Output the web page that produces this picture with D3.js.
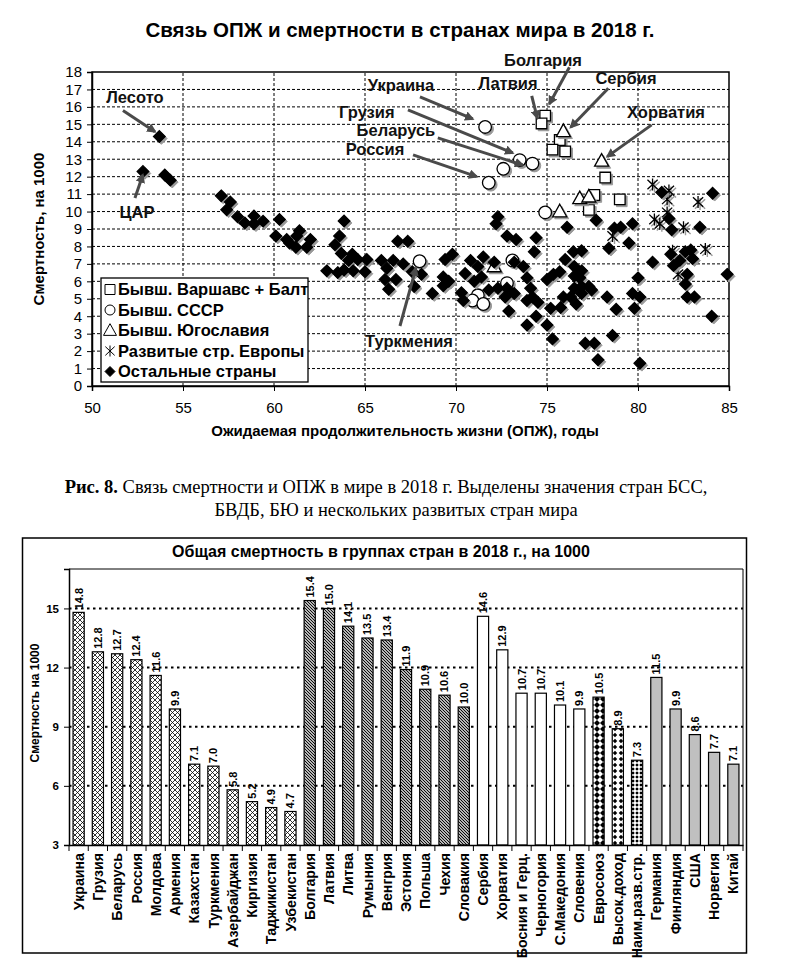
<!DOCTYPE html>
<html><head><meta charset="utf-8">
<script src="https://cdn.jsdelivr.net/npm/d3@7"></script>
<style>
body{margin:0;background:#fff}
svg text{font-family:"Liberation Sans",Arial,sans-serif}
</style>
</head><body>
<svg id="c" width="785" height="963"></svg>
<script>
// ---------- Scatter data: [life expectancy, mortality per 1000] ----------
const warsawBalt = [[74.9,15.5],[74.7,15.05],[75.7,14.1],[75.3,13.55],[76.0,13.45],[78.2,11.95],[77.6,10.95],[79.0,10.7],[77.3,10.1]];
const formerUSSR = [[71.6,14.85],[72.6,12.45],[73.5,12.95],[74.2,12.75],[71.8,11.65],[74.9,9.95],[68.0,7.15],[73.1,7.2],[72.8,5.9],[71.2,5.2],[70.9,4.9],[71.5,4.7]];
const formerYugo = [[75.9,14.6],[78.0,12.9],[76.8,10.75],[77.3,10.85],[75.7,10.0],[72.1,6.85]];
const developedEurope = [[80.8,11.55],[81.7,11.2],[81.6,10.7],[83.3,10.55],[81.6,9.95],[80.9,9.55],[81.2,9.3],[82.5,9.1],[78.6,8.6],[81.9,7.75],[83.7,7.85],[82.2,6.4]];
const otherCountries = [[53.7,14.3],[52.8,12.3],[54.0,12.1],[54.3,11.8],[57.1,10.9],[57.6,10.55],[57.4,10.1],[58.0,9.7],[58.4,9.35],[58.9,9.75],[58.9,9.3],[59.4,9.45],[60.3,9.55],[60.1,8.6],[60.7,8.4],[60.85,8.2],[61.4,8.9],[61.25,8.6],[61.2,7.95],[61.8,7.95],[62.0,8.4],[62.9,6.6],[63.5,6.5],[63.85,9.46],[63.6,8.6],[63.35,8.1],[63.7,7.6],[64.3,7.55],[64.1,7.2],[64.6,7.25],[65.1,7.25],[63.85,6.65],[64.35,6.6],[65.0,6.55],[65.9,7.2],[66.2,6.75],[66.55,7.2],[67.1,7.0],[66.1,6.1],[66.7,6.1],[66.3,5.55],[66.8,8.3],[67.35,8.3],[67.6,6.55],[68.1,6.4],[67.7,5.7],[68.7,5.3],[69.4,7.25],[69.8,7.55],[69.3,6.25],[69.6,6.0],[69.3,5.75],[70.3,5.35],[70.4,4.9],[70.8,7.2],[71.5,7.4],[71.2,6.85],[72.1,7.1],[70.5,6.45],[71.0,6.0],[71.4,6.25],[71.8,5.5],[72.3,9.7],[72.2,9.3],[72.8,8.6],[73.3,8.4],[74.4,8.5],[74.3,7.7],[73.2,7.1],[73.7,6.85],[73.9,6.2],[72.3,5.6],[72.8,5.6],[73.2,5.3],[72.7,5.1],[72.9,4.3],[74.1,5.6],[74.2,5.1],[73.9,4.9],[74.5,4.8],[74.4,4.0],[73.9,3.5],[75.0,3.5],[75.3,2.7],[75.0,6.1],[75.35,6.4],[75.7,6.55],[76.0,7.25],[76.45,7.7],[76.9,7.75],[76.5,6.85],[76.9,6.6],[76.5,6.3],[76.8,6.2],[76.5,5.6],[76.9,5.7],[77.3,5.7],[77.45,5.5],[76.9,5.3],[75.9,5.1],[76.3,5.1],[76.6,4.7],[75.2,4.45],[75.75,4.5],[77.1,2.45],[77.6,2.45],[77.8,1.5],[76.1,9.1],[77.7,9.5],[78.7,9.05],[79.05,9.1],[79.7,9.3],[78.4,7.9],[79.5,8.2],[78.3,5.1],[78.8,4.4],[78.6,2.9],[80.0,6.2],[79.7,5.3],[80.1,5.1],[79.8,4.45],[80.1,1.3],[81.3,11.1],[84.1,11.05],[81.7,9.6],[81.85,8.95],[83.4,9.1],[80.8,7.1],[81.8,7.55],[81.95,6.9],[82.3,7.2],[82.6,7.7],[82.9,7.8],[83.0,7.3],[82.7,6.4],[82.6,5.85],[82.7,5.1],[83.1,5.1],[84.05,4.0],[84.9,6.4]];
const xTicks = [50,55,60,65,70,75,80,85];
const yTicks = [0,1,2,3,4,5,6,7,8,9,10,11,12,13,14,15,16,17,18];
const legendLabels = ["Бывш. Варшавс + Балт","Бывш. СССР","Бывш. Югославия","Развитые стр. Европы","Остальные страны"];
// annotations: label, label position [x,y], arrow from [x,y] to [x,y] (data units)
const annLabels = ["Лесото","ЦАР","Украина","Грузия","Беларусь","Россия","Латвия","Болгария","Сербия","Хорватия","Туркмения"];
const annText = [[52.36,16.57],[52.47,9.98],[66.98,17.26],[65.1,15.71],[66.7,14.65],[65.55,13.58],[72.86,17.37],[74.78,18.69],[79.34,17.66],[81.54,15.71],[67.42,2.58]];
const annFrom = [[51.7,15.8],[52.36,10.78],[68.02,16.57],[67.36,15.83],[69.0,14.22],[67.64,13.25],[74.16,16.63],[76.23,18.27],[78.37,17.07],[80.75,14.97],[66.92,3.44]];
const annTo = [[53.46,14.58],[52.79,12.1],[70.92,15.31],[73.12,13.36],[73.66,12.67],[71.14,12.0],[74.47,15.35],[75.13,16.17],[76.3,14.83],[78.31,13.15],[67.8,6.77]];

// ---------- Bar data ----------
const barCountries = ["Украина","Грузия","Беларусь","Россия","Молдова","Армения","Казахстан","Туркмения","Азербайджан","Киргизия","Таджикистан","Узбекистан","Болгария","Латвия","Литва","Румыния","Венгрия","Эстония","Польша","Чехия","Словакия","Сербия","Хорватия","Босния и Герц.","Черногория","С.Македония","Словения","Евросоюз","Высок.доход","Наим.разв.стр.","Германия","Финляндия","США","Норвегия","Китай"];
const barValues = [14.8,12.8,12.7,12.4,11.6,9.9,7.1,7.0,5.8,5.2,4.9,4.7,15.4,15.0,14.1,13.5,13.4,11.9,10.9,10.6,10.0,14.6,12.9,10.7,10.7,10.1,9.9,10.5,8.9,7.3,11.5,9.9,8.6,7.7,7.1];
const barGroups = ["ussr","ussr","ussr","ussr","ussr","ussr","ussr","ussr","ussr","ussr","ussr","ussr","wb","wb","wb","wb","wb","wb","wb","wb","wb","yu","yu","yu","yu","yu","yu","eu","hi","ld","dev","dev","dev","dev","dev"];
const barYTicks = [3,6,9,12,15];

const svg = d3.select("#c");
const defs = svg.append("defs");

// ---------- patterns ----------
function pat(id,w,h,fn){const p=defs.append("pattern").attr("id",id).attr("patternUnits","userSpaceOnUse").attr("width",w).attr("height",h);fn(p);}
pat("p-ussr",5,5,p=>{p.append("rect").attr("width",5).attr("height",5).attr("fill","#fff");
  p.append("path").attr("d","M0,0L5,5M5,0L0,5").attr("stroke","#000").attr("stroke-width",0.8);});
pat("p-wb",3,3,p=>{p.append("rect").attr("width",3).attr("height",3).attr("fill","#fff");
  p.append("path").attr("d","M-1,-1L4,4M-1,2L1,4M2,-1L4,1").attr("stroke","#000").attr("stroke-width",1.1);});
pat("p-eu",6,6,p=>{p.append("rect").attr("width",6).attr("height",6).attr("fill","#fff");
  p.append("path").attr("d","M3,0L6,3L3,6L0,3Z").attr("fill","#000");});
pat("p-hi",6,6,p=>{p.append("rect").attr("width",6).attr("height",6).attr("fill","#fff");
  p.append("path").attr("d","M3,0.8L5.2,3L3,5.2L0.8,3Z").attr("fill","#000");});
pat("p-ld",4,4,p=>{p.append("rect").attr("width",4).attr("height",4).attr("fill","#bbb");
  p.append("rect").attr("width",2).attr("height",2).attr("fill","#000");
  p.append("rect").attr("x",2).attr("y",2).attr("width",2).attr("height",2).attr("fill","#fff");});
const fills = {ussr:"url(#p-ussr)",wb:"url(#p-wb)",yu:"#fff",eu:"url(#p-eu)",hi:"url(#p-hi)",ld:"url(#p-ld)",dev:"#c0c0c0"};

defs.append("marker").attr("id","arr").attr("viewBox","0 0 10 10").attr("refX",8).attr("refY",5)
  .attr("markerWidth",3.2).attr("markerHeight",3.2).attr("orient","auto")
  .append("path").attr("d","M0,0L10,5L0,10Z").attr("fill","#4a4a4a");

// ================= SCATTER =================
const x = d3.scaleLinear().domain([50,85]).range([92,729]);
const y = d3.scaleLinear().domain([0,18]).range([386,72]);

svg.append("text").attr("x",400).attr("y",37).attr("text-anchor","middle")
  .attr("font-size",20.5).attr("font-weight","bold").text("Связь ОПЖ и смертности в странах мира в 2018 г.");

const g1 = svg.append("g");
// grid
g1.selectAll(".hg").data(yTicks.filter(d=>d>0&&d<18)).join("line")
  .attr("x1",x(50)).attr("x2",x(85)).attr("y1",d=>y(d)).attr("y2",d=>y(d))
  .attr("stroke","#000").attr("stroke-width",1).attr("stroke-dasharray","3,2");
g1.selectAll(".vg").data(xTicks.filter(d=>d>50&&d<85)).join("line")
  .attr("y1",y(0)).attr("y2",y(18)).attr("x1",d=>x(d)).attr("x2",d=>x(d))
  .attr("stroke","#000").attr("stroke-width",1).attr("stroke-dasharray","3,2");
g1.append("rect").attr("x",x(50)).attr("y",y(18)).attr("width",x(85)-x(50)).attr("height",y(0)-y(18))
  .attr("fill","none").attr("stroke","#000").attr("stroke-width",1.5);

const ax = g1.append("g").attr("transform",`translate(0,${y(0)})`)
  .call(d3.axisBottom(x).tickValues(xTicks).tickSize(5).tickPadding(11));
const ay = g1.append("g").attr("transform",`translate(${x(50)},0)`)
  .call(d3.axisLeft(y).tickValues(yTicks).tickSize(5).tickPadding(5));
[ax,ay].forEach(a=>{a.select(".domain").attr("stroke","#000").attr("stroke-width",1.5);
  a.selectAll("text").attr("font-size",15).attr("fill","#000").style("font-family",'"Liberation Sans",Arial,sans-serif');
  a.selectAll("line").attr("stroke","#000");});

svg.append("text").attr("x",405).attr("y",436).attr("text-anchor","middle")
  .attr("font-size",15).attr("font-weight","bold").text("Ожидаемая продолжительность жизни (ОПЖ), годы");
svg.append("text").attr("transform",`translate(44,229) rotate(-90)`).attr("text-anchor","middle")
  .attr("font-size",15).attr("font-weight","bold").text("Смертность, на 1000");

// marker shapes
const shapes = {
  square: s=>`M${-s},${-s}H${s}V${s}H${-s}Z`,
  circle: s=>`M${-s},0A${s},${s} 0 1,0 ${s},0A${s},${s} 0 1,0 ${-s},0Z`,
  triangle: s=>`M0,${-s*1.05}L${s},${s*0.75}L${-s},${s*0.75}Z`,
  star: s=>`M0,${-s}V${s}M${-s*0.85},${-s*0.8}L${s*0.85},${s*0.8}M${-s*0.85},${s*0.8}L${s*0.85},${-s*0.8}`,
  diamond: s=>`M0,${-s}L${s},0L0,${s}L${-s},0Z`
};
function drawSeries(data, shape, size, filled){
  const gg = g1.append("g");
  const isStar = shape==="star";
  gg.selectAll(".sh").data(data).join("path")
    .attr("transform",d=>`translate(${x(d[0])+2},${y(d[1])+2})`)
    .attr("d",shapes[shape](size))
    .attr("fill",isStar?"none":"#999").attr("stroke","#999").attr("stroke-width",isStar?1.4:1);
  gg.selectAll(".mk").data(data).join("path")
    .attr("transform",d=>`translate(${x(d[0])},${y(d[1])})`)
    .attr("d",shapes[shape](size))
    .attr("fill",isStar?"none":(filled?"#000":"#fff")).attr("stroke","#000").attr("stroke-width",isStar?1.3:1.3);
}
drawSeries(warsawBalt,"square",5.3,false);
drawSeries(formerUSSR,"circle",6.3,false);
drawSeries(formerYugo,"triangle",7,false);
drawSeries(developedEurope,"star",6,false);
drawSeries(otherCountries,"diamond",5.8,true);

// annotations
const annG = svg.append("g");
annLabels.forEach((t,i)=>{
  annG.append("line").attr("x1",x(annFrom[i][0])).attr("y1",y(annFrom[i][1]))
    .attr("x2",x(annTo[i][0])).attr("y2",y(annTo[i][1]))
    .attr("stroke","#4a4a4a").attr("stroke-width",3).attr("marker-end","url(#arr)");
  annG.append("text").attr("x",x(annText[i][0])).attr("y",y(annText[i][1])).attr("dy","0.35em")
    .attr("text-anchor","middle").attr("font-size",16.5).attr("font-weight","bold").attr("fill","#111").text(t);
});

// legend
const lg = svg.append("g").attr("transform","translate(101,278)");
lg.append("rect").attr("width",207).attr("height",104).attr("fill","#fff").attr("stroke","#000").attr("stroke-width",1.3);
const lShapes = [["square",5],["circle",5],["triangle",6.5],["star",5.5],["diamond",5]];
legendLabels.forEach((t,i)=>{
  const yy = 11.5 + i*20.5;
  const s = lShapes[i];
  lg.append("path").attr("transform",`translate(9,${yy})`).attr("d",shapes[s[0]](s[1]))
    .attr("fill",s[0]==="diamond"?"#000":(s[0]==="star"?"none":"#fff")).attr("stroke","#000").attr("stroke-width",1);
  lg.append("text").attr("x",17).attr("y",yy).attr("dy","0.36em").attr("font-size",16.5).attr("font-weight","bold").text(t);
});

// ================= CAPTION =================
const cap = svg.append("text").attr("x",386).attr("y",493).attr("text-anchor","middle")
  .style("font-family",'"Liberation Serif","Times New Roman",serif').attr("font-size",18.5);
cap.append("tspan").attr("font-weight","bold").text("Рис. 8.");
cap.append("tspan").text(" Связь смертности и ОПЖ в мире в 2018 г. Выделены значения стран БСС,");
svg.append("text").attr("x",396).attr("y",516).attr("text-anchor","middle")
  .style("font-family",'"Liberation Serif","Times New Roman",serif').attr("font-size",18.5)
  .text("БВДБ, БЮ и нескольких развитых стран мира");

// ================= BAR CHART =================
svg.append("rect").attr("x",22.5).attr("y",538).attr("width",724).attr("height",415)
  .attr("fill","#fff").attr("stroke","#000").attr("stroke-width",1.5);
svg.append("text").attr("x",381).attr("y",557).attr("text-anchor","middle")
  .attr("font-size",16).attr("font-weight","bold").text("Общая смертность в группах стран в 2018 г., на 1000");

const xb = d3.scaleBand().domain(barCountries).range([69,743]).padding(0);
const yb = d3.scaleLinear().domain([3,17]).range([845,569]);
const g2 = svg.append("g");
// grid
g2.selectAll(".bg").data(barYTicks.filter(d=>d>3)).join("line")
  .attr("x1",xb.range()[0]).attr("x2",xb.range()[1]).attr("y1",d=>yb(d)).attr("y2",d=>yb(d))
  .attr("stroke","#000").attr("stroke-width",2).attr("stroke-dasharray","2.5,3.5");
// plot frame top/right
g2.append("path").attr("d",`M${xb.range()[0]},${yb(17)}H${xb.range()[1]}V${yb(3)}`)
  .attr("fill","none").attr("stroke","#000").attr("stroke-width",1);

const bw = xb.bandwidth()*0.58;
g2.selectAll(".bar").data(barValues).join("rect")
  .attr("x",(d,i)=>xb(barCountries[i])+(xb.bandwidth()-bw)/2)
  .attr("y",d=>yb(d)).attr("width",bw).attr("height",d=>yb(3)-yb(d))
  .attr("fill",(d,i)=>fills[barGroups[i]]).attr("stroke","#000").attr("stroke-width",1.2);
// value labels
g2.selectAll(".vl").data(barValues).join("text")
  .attr("transform",(d,i)=>`translate(${xb(barCountries[i])+xb.bandwidth()/2},${yb(d)-3}) rotate(-90)`)
  .attr("dy","0.36em").attr("text-anchor","start").attr("font-size",11).attr("font-weight","bold")
  .text(d=>d.toFixed(1));

// axes
const bx = g2.append("g").attr("transform",`translate(0,${yb(3)})`)
  .call(d3.axisBottom(xb).tickSize(0).tickPadding(0));
bx.select(".domain").attr("stroke","#000").attr("stroke-width",1.5);
bx.selectAll("text").remove();
g2.selectAll(".bt").data(d3.range(barCountries.length+1)).join("line")
  .attr("x1",i=>xb.range()[0]+i*xb.step()).attr("x2",i=>xb.range()[0]+i*xb.step())
  .attr("y1",yb(3)).attr("y2",yb(3)+6).attr("stroke","#000").attr("stroke-width",1);
g2.selectAll(".xl").data(barCountries).join("text")
  .attr("transform",d=>`translate(${xb(d)+xb.bandwidth()/2},${yb(3)+8}) rotate(-90)`)
  .attr("dy","0.36em").attr("text-anchor","end").attr("font-size",14.2).attr("font-weight","bold")
  .text(d=>d);

const by = g2.append("g").attr("transform",`translate(${xb.range()[0]},0)`)
  .call(d3.axisLeft(yb).tickValues(barYTicks).tickSize(5).tickPadding(5));
by.select(".domain").attr("stroke","#000").attr("stroke-width",1.5);
by.selectAll("text").attr("font-size",11.5).attr("font-weight","bold").attr("fill","#000")
  .style("font-family",'"Liberation Sans",Arial,sans-serif');
svg.append("text").attr("transform","translate(39,703) rotate(-90)").attr("text-anchor","middle")
  .attr("font-size",12).attr("font-weight","bold").text("Смертность на 1000");
</script>
</body></html>
